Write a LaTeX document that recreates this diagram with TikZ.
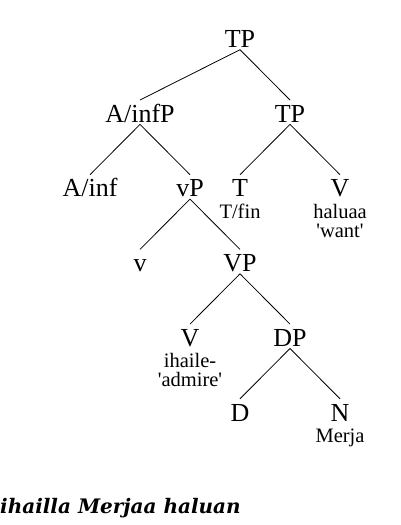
\documentclass[tikz,border=0pt]{standalone}
\usepackage{fontspec}
\setmainfont{Liberation Serif}
\newfontfamily\glossfont{DejaVu Serif}
\begin{document}
\begin{tikzpicture}[x=1pt,y=-1pt,
  cat/.style={inner sep=0pt,text height=22pt,text depth=2pt,anchor=base,font=\fontsize{26}{26}\selectfont},
  sub/.style={inner sep=0pt,anchor=base,align=center,font=\fontsize{20.5}{19}\selectfont},
  edge/.style={draw=black,line width=0.8pt}]
\useasboundingbox (0,0) rectangle (400,525);
% level baselines
\def\la{47.5}\def\lb{122.2}\def\lc{196.9}\def\ld{271.6}\def\le{346.3}\def\lf{421}
\node[cat] (tp) at (240,\la) {TP};
\node[cat] (ainfp) at (140,\lb) {A/infP};
\node[cat] (tp2) at (290,\lb) {TP};
\node[cat] (ainf) at (90,\lc) {A/inf};
\node[cat] (vp) at (190,\lc) {vP};
\node[cat] (t) at (240,\lc) {T};
\node[cat] (v1) at (340,\lc) {V};
\node[cat] (vsmall) at (140,\ld) {v};
\node[cat] (VP) at (240,\ld) {VP};
\node[cat] (v2) at (190,\le) {V};
\node[cat] (dp) at (290,\le) {DP};
\node[cat] (d) at (240,\lf) {D};
\node[cat] (n) at (340,\lf) {N};
\node[sub] (tfin) at (240,218) {T/fin};
\node[sub] (haluaa) at (340,237) {haluaa\\\textquotesingle want\textquotesingle};
\node[sub] (ihaile) at (190,386.7) {ihaile-\\\textquotesingle admire\textquotesingle};
\node[sub] (merja) at (340,442) {Merja};
\node[inner sep=0pt,anchor=base west,font=\glossfont\bfseries\itshape\fontsize{20}{20}\selectfont] (gloss) at (0,513.3) {ihailla Merjaa haluan};
\draw[edge] (tp.south) -- (ainfp.north);
\draw[edge] (tp.south) -- (tp2.north);
\draw[edge] (ainfp.south) -- (ainf.north);
\draw[edge] (ainfp.south) -- (vp.north);
\draw[edge] (tp2.south) -- (t.north);
\draw[edge] (tp2.south) -- (v1.north);
\draw[edge] (vp.south) -- (vsmall.north);
\draw[edge] (vp.south) -- (VP.north);
\draw[edge] (VP.south) -- (v2.north);
\draw[edge] (VP.south) -- (dp.north);
\draw[edge] (dp.south) -- (d.north);
\draw[edge] (dp.south) -- (n.north);
\end{tikzpicture}
\end{document}
